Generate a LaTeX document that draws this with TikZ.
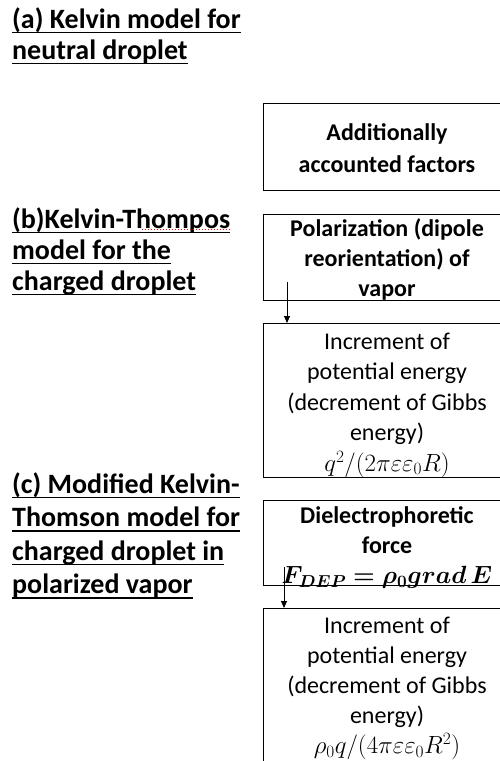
\documentclass[tikz,border=0pt]{standalone}
\usepackage{fontspec}
\setmainfont{Carlito}
\usepackage{bm}
\usetikzlibrary{arrows.meta}
\newcommand{\ulword}[1]{\setbox0\hbox{#1}\rlap{\rule[-5pt]{\wd0}{1.7pt}}\box0}
\newcommand{\formula}[1]{{\fontsize{26}{30.5}\selectfont$#1$}}
\tikzset{
  box/.style={draw, line width=1.1pt, anchor=north west, inner sep=0pt, minimum width=248pt},
  boxtext/.style={anchor=north, align=center, inner sep=0pt, font=\fontsize{24}{30.5}\selectfont},
  heading/.style={anchor=north west, align=left, inner sep=0pt, font=\fontsize{28}{31}\selectfont\bfseries},
  flow/.style={-{Triangle[length=7pt,width=6pt]}, line width=0.8pt}
}
\begin{document}
\begin{tikzpicture}[x=1pt, y=-1pt]
  \useasboundingbox (0,0) rectangle (499,761);
  % model headings
  \node[heading] (kelvin) at (12,7.5) {\ulword{(a) Kelvin model for}\\\ulword{neutral droplet}};
  \node[heading] (thomson) at (12,207.5) {\ulword{(b)Kelvin-Thompos}\\\ulword{model for the}\\\ulword{charged droplet}};
  \node[heading, font=\fontsize{28}{33.5}\selectfont\bfseries] (modified) at (12,472.5)
    {\ulword{(c) Modified Kelvin-}\\\ulword{Thomson model for}\\\ulword{charged droplet in}\\\ulword{polarized vapor}};
  \draw[red, dotted, line width=1pt] (142,229.5) -- (231,229.5);
  % boxes
  \node[box, minimum height=87pt] (extra) at (263,103) {};
  \node[box, minimum height=86pt] (polar) at (263,214) {};
  \node[box, minimum height=154pt] (gainq) at (263,323) {};
  \node[box, minimum height=85pt] (dep) at (263,500) {};
  \node[box, minimum height=175pt] (gaindep) at (263,608) {};
  % box texts
  \node[boxtext, font=\fontsize{24}{32}\selectfont\bfseries] (extratext) at (387,123)
    {Additionally\\accounted factors};
  \node[boxtext, font=\fontsize{24}{30}\selectfont\bfseries] (polartext) at (387,218.5)
    {Polarization (dipole\\reorientation) of\\vapor};
  \node[boxtext] (gainqtext) at (387,332.5)
    {Increment of\\potential energy\\(decrement of Gibbs\\energy)\\\formula{q^2/(2\pi\varepsilon\varepsilon_0R)}};
  \node[boxtext, font=\fontsize{24}{30}\selectfont\bfseries] (deptext) at (387,506.5)
    {Dielectrophoretic\\force\\$\bm{F_{DEP}=\rho_0 grad\,E}$};
  \node[boxtext, font=\fontsize{24}{30}\selectfont] (gaindeptext) at (387,617)
    {Increment of\\potential energy\\(decrement of Gibbs\\energy)\\\formula{\rho_0q/(4\pi\varepsilon\varepsilon_0R^2)}};
  % arrows
  \coordinate (polarfoot) at (287,282);
  \coordinate (depfoot) at (284,567);
  \draw[flow] (polarfoot) -- (polarfoot |- gainq.north);
  \draw[flow] (depfoot) -- (depfoot |- gaindep.north);
\end{tikzpicture}
\end{document}
